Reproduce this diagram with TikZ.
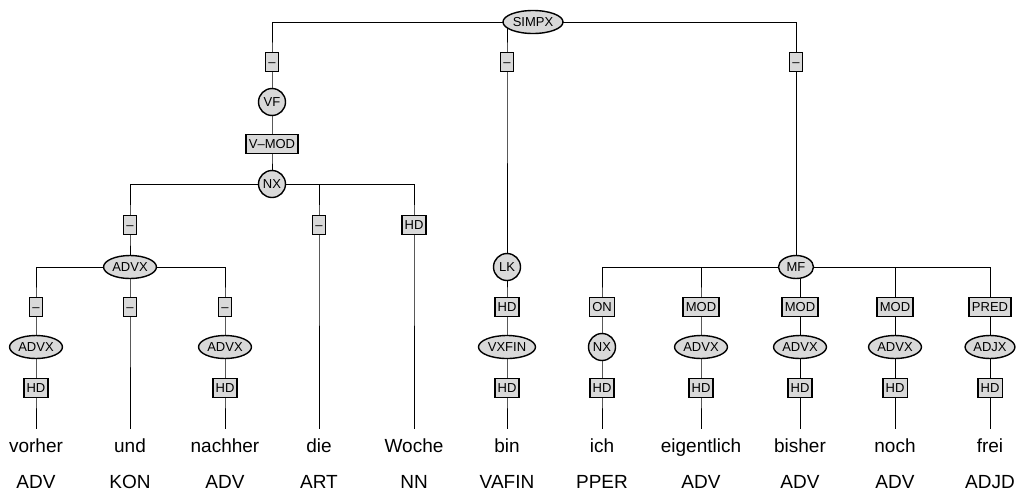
\documentclass[tikz,border=0pt]{standalone}
\usepackage{fontspec}
\setmainfont{Liberation Sans}
\usetikzlibrary{shapes.geometric,backgrounds}

\begin{document}
\begin{tikzpicture}[x=1pt, y=-1pt, line width=1.4pt,
  labfont/.style={font=\fontsize{13}{13}\selectfont, text height=9.5pt, text depth=0pt},
  cat/.style={ellipse, draw, fill=black!15, labfont, inner xsep=1pt, inner ysep=0pt, minimum height=23pt},
  catc/.style={circle, draw, fill=black!15, labfont, inner sep=0pt, minimum size=27pt},
  edgelab/.style={rectangle, draw, fill=black!15, labfont, inner xsep=2.8pt, inner ysep=0pt, minimum height=19pt},
  word/.style={font=\fontsize{19}{19}\selectfont, text height=14pt, text depth=4pt, anchor=base, inner sep=0pt},
  leaf/.style={shorten >=8pt}]
  \useasboundingbox (0,0) rectangle (1017,493);

  % Top node and its edge labels
  \node[cat] (simpx) at (533,22) {SIMPX};
  \node[edgelab] (e1) at (272,62) {–};
  \node[edgelab] (e2) at (507,62) {–};
  \node[edgelab] (e3) at (796,62) {–};

  % Vorfeld
  \node[catc] (vf) at (272,102) {VF};
  \node[edgelab] (vmod) at (272,144) {V–MOD};
  \node[catc] (nx) at (272,184) {NX};
  \node[edgelab] (e4) at (130,225) {–};
  \node[edgelab] (e5) at (319,225) {–};
  \node[edgelab] (e6) at (414,225) {HD};
  \node[cat] (advx) at (130,267) {ADVX};
  \node[edgelab] (e7) at (36,307) {–};
  \node[edgelab] (e8) at (130,307) {–};
  \node[edgelab] (e9) at (225,307) {–};
  \node[cat] (advxa) at (36,347) {ADVX};
  \node[cat] (advxb) at (225,347) {ADVX};
  \node[edgelab] (h1) at (36,388) {HD};
  \node[edgelab] (h2) at (225,388) {HD};

  % Linke Klammer
  \node[catc] (lk) at (507,267) {LK};
  \node[edgelab] (h3) at (507,307) {HD};
  \node[cat] (vxfin) at (507,347) {VXFIN};
  \node[edgelab] (h4) at (507,388) {HD};

  % Mittelfeld
  \node[cat, minimum width=35pt] (mf) at (796,267) {MF};
  \node[edgelab] (on) at (602,307) {ON};
  \node[edgelab] (mod1) at (701,307) {MOD};
  \node[edgelab] (mod2) at (800,307) {MOD};
  \node[edgelab] (mod3) at (895,307) {MOD};
  \node[edgelab] (pred) at (990,307) {PRED};
  \node[catc] (nxb) at (602,347) {NX};
  \node[cat] (advxc) at (701,347) {ADVX};
  \node[cat] (advxd) at (800,347) {ADVX};
  \node[cat] (advxe) at (895,347) {ADVX};
  \node[cat] (adjx) at (990,347) {ADJX};
  \node[edgelab] (h5) at (602,388) {HD};
  \node[edgelab] (h6) at (701,388) {HD};
  \node[edgelab] (h7) at (800,388) {HD};
  \node[edgelab] (h8) at (895,388) {HD};
  \node[edgelab] (h9) at (990,388) {HD};

  % Words
  \node[word] (w1) at (36,452) {vorher};
  \node[word] (w2) at (130,452) {und};
  \node[word] (w3) at (225,452) {nachher};
  \node[word] (w4) at (319,452) {die};
  \node[word] (w5) at (414,452) {Woche};
  \node[word] (w6) at (507,452) {bin};
  \node[word] (w7) at (602,452) {ich};
  \node[word] (w8) at (701,452) {eigentlich};
  \node[word] (w9) at (800,452) {bisher};
  \node[word] (w10) at (895,452) {noch};
  \node[word] (w11) at (990,452) {frei};

  % Part-of-speech tags
  \node[word] (t1) at (36,488) {ADV};
  \node[word] (t2) at (130,488) {KON};
  \node[word] (t3) at (225,488) {ADV};
  \node[word] (t4) at (319,488) {ART};
  \node[word] (t5) at (414,488) {NN};
  \node[word] (t6) at (507,488) {VAFIN};
  \node[word] (t7) at (602,488) {PPER};
  \node[word] (t8) at (701,488) {ADV};
  \node[word] (t9) at (800,488) {ADV};
  \node[word] (t10) at (895,488) {ADV};
  \node[word] (t11) at (990,488) {ADJD};

  % Tree edges, behind the nodes
  \begin{scope}[on background layer]
    \draw (simpx.center) -| (e1.center) -- (vf.center) -- (vmod.center) -- (nx.center);
    \draw (simpx.center) -| (e2.center) -- (lk.center);
    \draw (simpx.center) -| (e3.center) -- (mf.center);

    \draw (nx.center) -| (e4.center) -- (advx.center);
    \draw[leaf] (nx.center) -| (e5.center) -- (w4.north);
    \draw[leaf] (nx.center) -| (e6.center) -- (w5.north);
    \draw[leaf] (advx.center) -| (e7.center) -- (advxa.center) -- (h1.center) -- (w1.north);
    \draw[leaf] (advx.center) -- (e8.center) -- (w2.north);
    \draw[leaf] (advx.center) -| (e9.center) -- (advxb.center) -- (h2.center) -- (w3.north);

    \draw[leaf] (lk.center) -- (h3.center) -- (vxfin.center) -- (h4.center) -- (w6.north);

    \draw[leaf] (mf.center) -| (on.center) -- (nxb.center) -- (h5.center) -- (w7.north);
    \draw[leaf] (mf.center) -| (mod1.center) -- (advxc.center) -- (h6.center) -- (w8.north);
    \draw[leaf] (mf.center) -| (mod2.center) -- (advxd.center) -- (h7.center) -- (w9.north);
    \draw[leaf] (mf.center) -| (mod3.center) -- (advxe.center) -- (h8.center) -- (w10.north);
    \draw[leaf] (mf.center) -| (pred.center) -- (adjx.center) -- (h9.center) -- (w11.north);
  \end{scope}
\end{tikzpicture}
\end{document}
